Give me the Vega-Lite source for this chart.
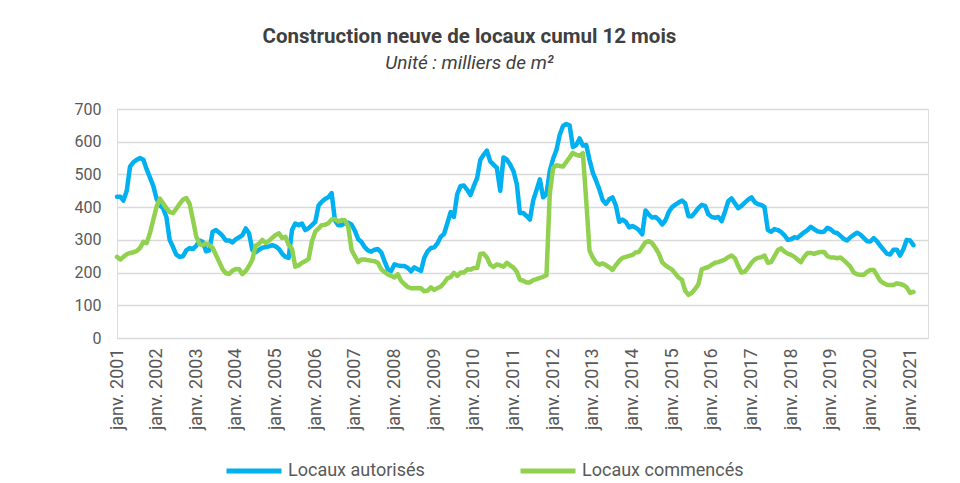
{
"$schema":"https://vega.github.io/schema/vega-lite/v6.json",
"width":811,"height":229,
"autosize":{"type":"none"},
"padding":{"left":117,"top":109,"right":32,"bottom":145},
"background":"white",
"title":{"text":"Construction neuve de locaux cumul 12 mois","subtitle":"Unité : milliers de m²","anchor":"middle","dx":-53,"offset":28,"font":"Roboto","fontSize":20.5,"fontWeight":"bold","color":"#404040","subtitleFont":"Roboto","subtitleFontSize":19,"subtitleFontStyle":"italic","subtitleColor":"#404040","subtitlePadding":7},
"data":{"values":[
{"m":"2001-01","aut":432,"com":248},{"m":"2001-02","aut":432,"com":240},{"m":"2001-03","aut":420,"com":248},{"m":"2001-04","aut":450,"com":256},{"m":"2001-05","aut":524,"com":260},{"m":"2001-06","aut":537,"com":262},{"m":"2001-07","aut":545,"com":266},{"m":"2001-08","aut":550,"com":275},{"m":"2001-09","aut":545,"com":294},{"m":"2001-10","aut":516,"com":290},{"m":"2001-11","aut":490,"com":321},{"m":"2001-12","aut":465,"com":361},
{"m":"2002-01","aut":425,"com":402},{"m":"2002-02","aut":405,"com":426},{"m":"2002-03","aut":397,"com":412},{"m":"2002-04","aut":370,"com":397},{"m":"2002-05","aut":300,"com":385},{"m":"2002-06","aut":278,"com":382},{"m":"2002-07","aut":255,"com":395},{"m":"2002-08","aut":248,"com":410},{"m":"2002-09","aut":250,"com":423},{"m":"2002-10","aut":268,"com":428},{"m":"2002-11","aut":275,"com":410},{"m":"2002-12","aut":272,"com":362},
{"m":"2003-01","aut":282,"com":310},{"m":"2003-02","aut":298,"com":287},{"m":"2003-03","aut":294,"com":284},{"m":"2003-04","aut":265,"com":289},{"m":"2003-05","aut":268,"com":284},{"m":"2003-06","aut":325,"com":276},{"m":"2003-07","aut":330,"com":254},{"m":"2003-08","aut":322,"com":232},{"m":"2003-09","aut":312,"com":210},{"m":"2003-10","aut":298,"com":198},{"m":"2003-11","aut":298,"com":196},{"m":"2003-12","aut":292,"com":206},
{"m":"2004-01","aut":302,"com":211},{"m":"2004-02","aut":308,"com":210},{"m":"2004-03","aut":314,"com":195},{"m":"2004-04","aut":335,"com":205},{"m":"2004-05","aut":320,"com":220},{"m":"2004-06","aut":269,"com":240},{"m":"2004-07","aut":262,"com":282},{"m":"2004-08","aut":270,"com":288},{"m":"2004-09","aut":276,"com":300},{"m":"2004-10","aut":278,"com":291},{"m":"2004-11","aut":280,"com":297},{"m":"2004-12","aut":284,"com":306},
{"m":"2005-01","aut":280,"com":315},{"m":"2005-02","aut":272,"com":320},{"m":"2005-03","aut":258,"com":306},{"m":"2005-04","aut":248,"com":309},{"m":"2005-05","aut":245,"com":285},{"m":"2005-06","aut":330,"com":272},{"m":"2005-07","aut":350,"com":218},{"m":"2005-08","aut":345,"com":222},{"m":"2005-09","aut":350,"com":230},{"m":"2005-10","aut":330,"com":235},{"m":"2005-11","aut":336,"com":242},{"m":"2005-12","aut":345,"com":295},
{"m":"2006-01","aut":355,"com":325},{"m":"2006-02","aut":405,"com":335},{"m":"2006-03","aut":416,"com":345},{"m":"2006-04","aut":425,"com":346},{"m":"2006-05","aut":430,"com":351},{"m":"2006-06","aut":443,"com":362},{"m":"2006-07","aut":360,"com":364},{"m":"2006-08","aut":345,"com":356},{"m":"2006-09","aut":345,"com":361},{"m":"2006-10","aut":352,"com":360},{"m":"2006-11","aut":352,"com":340},{"m":"2006-12","aut":347,"com":270},
{"m":"2007-01","aut":328,"com":250},{"m":"2007-02","aut":302,"com":232},{"m":"2007-03","aut":294,"com":240},{"m":"2007-04","aut":278,"com":240},{"m":"2007-05","aut":268,"com":238},{"m":"2007-06","aut":264,"com":236},{"m":"2007-07","aut":270,"com":235},{"m":"2007-08","aut":272,"com":230},{"m":"2007-09","aut":262,"com":210},{"m":"2007-10","aut":235,"com":202},{"m":"2007-11","aut":210,"com":194},{"m":"2007-12","aut":205,"com":190},
{"m":"2008-01","aut":225,"com":185},{"m":"2008-02","aut":222,"com":195},{"m":"2008-03","aut":220,"com":175},{"m":"2008-04","aut":220,"com":165},{"m":"2008-05","aut":215,"com":156},{"m":"2008-06","aut":204,"com":152},{"m":"2008-07","aut":216,"com":152},{"m":"2008-08","aut":210,"com":153},{"m":"2008-09","aut":205,"com":152},{"m":"2008-10","aut":245,"com":143},{"m":"2008-11","aut":265,"com":145},{"m":"2008-12","aut":275,"com":155},
{"m":"2009-01","aut":277,"com":147},{"m":"2009-02","aut":290,"com":153},{"m":"2009-03","aut":309,"com":157},{"m":"2009-04","aut":318,"com":168},{"m":"2009-05","aut":350,"com":182},{"m":"2009-06","aut":385,"com":186},{"m":"2009-07","aut":370,"com":199},{"m":"2009-08","aut":440,"com":190},{"m":"2009-09","aut":465,"com":200},{"m":"2009-10","aut":466,"com":200},{"m":"2009-11","aut":453,"com":210},{"m":"2009-12","aut":437,"com":209},
{"m":"2010-01","aut":465,"com":214},{"m":"2010-02","aut":490,"com":214},{"m":"2010-03","aut":544,"com":257},{"m":"2010-04","aut":560,"com":258},{"m":"2010-05","aut":573,"com":246},{"m":"2010-06","aut":540,"com":224},{"m":"2010-07","aut":530,"com":217},{"m":"2010-08","aut":520,"com":225},{"m":"2010-09","aut":450,"com":222},{"m":"2010-10","aut":552,"com":218},{"m":"2010-11","aut":545,"com":230},{"m":"2010-12","aut":530,"com":222},
{"m":"2011-01","aut":510,"com":215},{"m":"2011-02","aut":470,"com":202},{"m":"2011-03","aut":382,"com":178},{"m":"2011-04","aut":382,"com":175},{"m":"2011-05","aut":373,"com":170},{"m":"2011-06","aut":362,"com":170},{"m":"2011-07","aut":420,"com":177},{"m":"2011-08","aut":452,"com":180},{"m":"2011-09","aut":485,"com":184},{"m":"2011-10","aut":430,"com":187},{"m":"2011-11","aut":440,"com":192},{"m":"2011-12","aut":510,"com":440},
{"m":"2012-01","aut":548,"com":520},{"m":"2012-02","aut":575,"com":528},{"m":"2012-03","aut":620,"com":526},{"m":"2012-04","aut":648,"com":524},{"m":"2012-05","aut":654,"com":538},{"m":"2012-06","aut":650,"com":552},{"m":"2012-07","aut":584,"com":566},{"m":"2012-08","aut":590,"com":560},{"m":"2012-09","aut":610,"com":557},{"m":"2012-10","aut":588,"com":565},{"m":"2012-11","aut":590,"com":420},{"m":"2012-12","aut":545,"com":268},
{"m":"2013-01","aut":505,"com":245},{"m":"2013-02","aut":480,"com":230},{"m":"2013-03","aut":455,"com":224},{"m":"2013-04","aut":422,"com":228},{"m":"2013-05","aut":410,"com":223},{"m":"2013-06","aut":424,"com":216},{"m":"2013-07","aut":430,"com":208},{"m":"2013-08","aut":405,"com":223},{"m":"2013-09","aut":355,"com":236},{"m":"2013-10","aut":362,"com":245},{"m":"2013-11","aut":355,"com":248},{"m":"2013-12","aut":338,"com":251},
{"m":"2014-01","aut":342,"com":254},{"m":"2014-02","aut":337,"com":262},{"m":"2014-03","aut":330,"com":263},{"m":"2014-04","aut":317,"com":278},{"m":"2014-05","aut":390,"com":293},{"m":"2014-06","aut":377,"com":296},{"m":"2014-07","aut":368,"com":290},{"m":"2014-08","aut":370,"com":275},{"m":"2014-09","aut":361,"com":258},{"m":"2014-10","aut":347,"com":232},{"m":"2014-11","aut":360,"com":222},{"m":"2014-12","aut":385,"com":215},
{"m":"2015-01","aut":400,"com":209},{"m":"2015-02","aut":408,"com":196},{"m":"2015-03","aut":414,"com":185},{"m":"2015-04","aut":420,"com":178},{"m":"2015-05","aut":412,"com":145},{"m":"2015-06","aut":372,"com":132},{"m":"2015-07","aut":372,"com":138},{"m":"2015-08","aut":384,"com":150},{"m":"2015-09","aut":398,"com":165},{"m":"2015-10","aut":407,"com":210},{"m":"2015-11","aut":404,"com":214},{"m":"2015-12","aut":378,"com":217},
{"m":"2016-01","aut":370,"com":224},{"m":"2016-02","aut":367,"com":230},{"m":"2016-03","aut":370,"com":232},{"m":"2016-04","aut":357,"com":236},{"m":"2016-05","aut":385,"com":240},{"m":"2016-06","aut":418,"com":247},{"m":"2016-07","aut":427,"com":252},{"m":"2016-08","aut":412,"com":244},{"m":"2016-09","aut":397,"com":220},{"m":"2016-10","aut":404,"com":200},{"m":"2016-11","aut":414,"com":203},{"m":"2016-12","aut":423,"com":215},
{"m":"2017-01","aut":430,"com":230},{"m":"2017-02","aut":415,"com":240},{"m":"2017-03","aut":409,"com":245},{"m":"2017-04","aut":407,"com":247},{"m":"2017-05","aut":400,"com":252},{"m":"2017-06","aut":330,"com":230},{"m":"2017-07","aut":325,"com":232},{"m":"2017-08","aut":333,"com":250},{"m":"2017-09","aut":330,"com":269},{"m":"2017-10","aut":324,"com":274},{"m":"2017-11","aut":314,"com":264},{"m":"2017-12","aut":300,"com":258},
{"m":"2018-01","aut":302,"com":254},{"m":"2018-02","aut":308,"com":248},{"m":"2018-03","aut":306,"com":240},{"m":"2018-04","aut":315,"com":232},{"m":"2018-05","aut":323,"com":248},{"m":"2018-06","aut":330,"com":260},{"m":"2018-07","aut":340,"com":260},{"m":"2018-08","aut":333,"com":257},{"m":"2018-09","aut":326,"com":261},{"m":"2018-10","aut":324,"com":263},{"m":"2018-11","aut":325,"com":263},{"m":"2018-12","aut":337,"com":250},
{"m":"2019-01","aut":332,"com":246},{"m":"2019-02","aut":323,"com":246},{"m":"2019-03","aut":321,"com":244},{"m":"2019-04","aut":312,"com":246},{"m":"2019-05","aut":303,"com":238},{"m":"2019-06","aut":298,"com":228},{"m":"2019-07","aut":308,"com":218},{"m":"2019-08","aut":315,"com":200},{"m":"2019-09","aut":322,"com":195},{"m":"2019-10","aut":316,"com":193},{"m":"2019-11","aut":306,"com":193},{"m":"2019-12","aut":296,"com":202},
{"m":"2020-01","aut":295,"com":208},{"m":"2020-02","aut":305,"com":208},{"m":"2020-03","aut":296,"com":192},{"m":"2020-04","aut":282,"com":175},{"m":"2020-05","aut":270,"com":168},{"m":"2020-06","aut":258,"com":163},{"m":"2020-07","aut":255,"com":162},{"m":"2020-08","aut":270,"com":162},{"m":"2020-09","aut":270,"com":167},{"m":"2020-10","aut":252,"com":165},{"m":"2020-11","aut":272,"com":162},{"m":"2020-12","aut":300,"com":155},
{"m":"2021-01","aut":298,"com":138},{"m":"2021-02","aut":284,"com":141}
],"format":{"parse":{"m":"utc:'%Y-%m'"}}},
"transform":[{"fold":["aut","com"],"as":["serie","val"]}],
"mark":{"type":"line","strokeWidth":4.5,"strokeJoin":"round","strokeCap":"round"},
"encoding":{
"x":{"field":"m","type":"temporal","scale":{"type":"utc","domain":[{"year":2001,"month":1,"date":1,"utc":true},{"year":2021,"month":6,"date":15,"utc":true}]},
"axis":{"title":null,"tickCount":{"interval":"year","step":1},"labelExpr":"'janv. ' + utcFormat(datum.value, '%Y')","labelAngle":-90,"labelAlign":"right","labelBaseline":"middle","labelFlush":false,"labelOverlap":false,"grid":false,"ticks":false,"domain":false,"labelFont":"Roboto","labelFontSize":18,"labelColor":"#595959","labelPadding":10}},
"y":{"field":"val","type":"quantitative","scale":{"domain":[0,700],"nice":false},
"axis":{"title":null,"values":[0,100,200,300,400,500,600,700],"grid":true,"gridColor":"#d9d9d9","gridWidth":1.5,"domain":false,"ticks":false,"labelFont":"Roboto","labelFontSize":16,"labelColor":"#595959","labelPadding":16}},
"color":{"field":"serie","type":"nominal","scale":{"domain":["aut","com"],"range":["#00B0F0","#92D050"]},
"legend":{"title":null,"orient":"none","legendX":107,"legendY":332,"direction":"horizontal","symbolType":"stroke","symbolSize":3025,"symbolStrokeWidth":5,"labelExpr":"datum.value == 'aut' ? 'Locaux autorisés' : 'Locaux commencés'","labelFont":"Roboto","labelFontSize":18,"labelColor":"#595959","labelOffset":4,"columnPadding":85,"padding":0,"labelLimit":300}}
}
}
